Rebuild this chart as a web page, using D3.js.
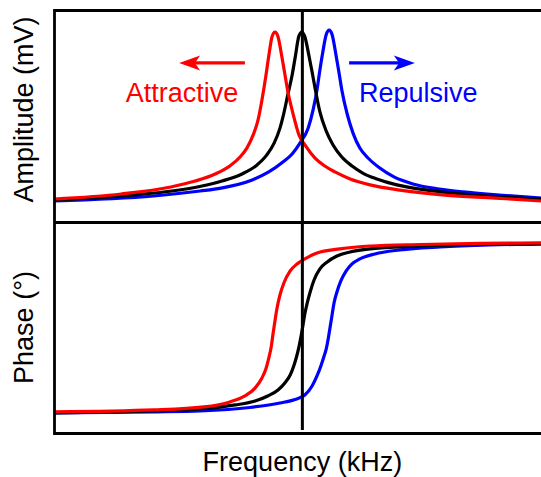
<!DOCTYPE html>
<html>
<head>
<meta charset="utf-8">
<script src="https://cdn.jsdelivr.net/npm/d3@7"></script>
<style>
  body { margin: 0; background: #fff; }
  text { font-family: "Liberation Sans", Arial, sans-serif; }
</style>
</head>
<body>
<div id="chart"></div>
<script>
// Amplitude curves (frequency in kHz, amplitude in mV)
const ampFreqBlack = [249.0, 265.0, 273.2, 279.4, 283.5, 287.6, 290.7, 292.7, 294.2, 295.4, 296.2, 297.0, 297.9, 298.5, 299.3, 299.9,
  300.5, 301.4, 302.0, 302.6, 303.6, 304.9, 306.3, 308.1, 310.2, 312.4, 315.3, 319.4, 325.6, 333.0, 341.0, 349.0];
const ampBlack = [0.93, 1.20, 1.42, 1.69, 1.96, 2.34, 2.83, 3.37, 4.01, 4.82, 5.63, 6.61, 7.69, 8.60, 9.80, 10.01,
  9.76, 8.66, 7.85, 6.99, 5.69, 4.66, 3.91, 3.26, 2.77, 2.39, 2.07, 1.75, 1.47, 1.26, 1.10, 0.99];

const ampFreqRed = [249.0, 262.8, 273.0, 278.0, 282.1, 285.1, 287.2, 288.6, 289.9, 290.9, 291.7, 292.5, 293.1, 293.8, 294.4,
  295.0, 295.8, 296.4, 297.0, 298.1, 299.3, 300.7, 302.6, 304.6, 306.7, 309.8, 313.9, 320.0, 329.3, 339.6, 349.0];
const ampRed = [0.99, 1.26, 1.64, 1.96, 2.34, 2.77, 3.26, 3.74, 4.45, 5.26, 6.34, 7.63, 8.71, 9.78, 10.01,
  9.76, 8.66, 7.74, 6.82, 5.58, 4.45, 3.85, 3.20, 2.77, 2.45, 2.07, 1.75, 1.47, 1.20, 1.04, 0.88];

const ampFreqBlue = [249.0, 269.5, 279.0, 283.3, 289.7, 293.1, 296.0, 297.9, 299.5, 301.2, 302.2, 303.0, 303.6, 304.2, 304.9, 305.5,
  306.1, 306.9, 307.5, 308.1, 309.2, 310.4, 311.8, 313.7, 315.9, 318.8, 322.7, 328.1, 333.0, 340.4, 349.0];
const ampBlue = [0.88, 1.15, 1.42, 1.58, 2.02, 2.45, 2.99, 3.42, 4.01, 4.82, 5.80, 6.88, 7.96, 8.93, 9.88, 10.12,
  9.88, 8.77, 7.85, 6.88, 5.58, 4.55, 3.74, 3.15, 2.66, 2.18, 1.80, 1.53, 1.37, 1.20, 1.04];

// Phase curves (frequency in kHz, phase in degrees)
const phFreqRed = [249.0, 269.5, 279.8, 285.1, 288.2, 290.3, 291.7, 292.5, 293.1, 293.6, 294.0, 294.4, 294.8, 295.4, 296.2,
  297.5, 298.9, 300.5, 303.0, 307.7, 313.9, 324.2, 336.5, 349.0];
const phRed = [1.1, 3.2, 6.4, 11.7, 18.0, 26.5, 37.1, 46.6, 58.2, 69.9, 84.7, 98.5, 111.2, 124.9, 137.6,
  150.4, 157.8, 163.1, 169.4, 173.7, 176.8, 178.4, 179.5, 180.0];

const phFreqBlack = [249.0, 269.5, 279.0, 286.2, 290.3, 292.9, 295.0, 296.4, 297.5, 298.3, 298.9, 299.3, 299.7, 300.1, 300.5,
  301.0, 301.6, 302.4, 303.6, 305.1, 307.1, 309.8, 314.9, 324.2, 336.5, 349.0];
const phBlack = [0, 2.1, 4.2, 8.5, 12.7, 18.0, 24.4, 31.8, 40.2, 50.8, 61.4, 69.9, 80.5, 92.1, 104.8,
  116.5, 128.1, 140.8, 152.5, 159.9, 166.2, 170.5, 174.2, 176.8, 178.4, 178.9];

const phFreqBlue = [249.0, 269.5, 279.0, 289.2, 295.4, 298.5, 300.5, 302.0, 303.0, 303.8, 304.4, 304.9, 305.3, 305.7, 306.1,
  306.5, 307.1, 307.9, 309.0, 310.2, 311.8, 314.9, 320.0, 328.3, 338.5, 349.0];
const phBlue = [0, 1.1, 2.1, 5.8, 10.6, 14.3, 19.1, 28.6, 39.2, 49.8, 59.3, 67.8, 78.4, 91.1, 103.8,
  116.5, 128.1, 139.8, 150.4, 157.8, 163.1, 168.4, 172.6, 175.8, 177.9, 178.9];

const resonance = 300;

// annotations
const labelText = ['Attractive', 'Repulsive'];
const labelFreq = [275.3, 323.8];
const labelAmp  = [6.23, 6.23];
const arrowFrom = [288.2, 309.6];
const arrowTo   = [274.7, 323.1];
const arrowAmp  = 8.34;
const colors = { red: '#ff0000', black: '#000000', blue: '#0000ff' };

const width = 541, height = 477;
const left = 54, right = 542;
const topA = 10, botA = 221, topP = 222, botP = 433;

const svg = d3.select('#chart').append('svg')
  .attr('width', width)
  .attr('height', height);

const x = d3.scaleLinear().domain([249, 349]).range([left, right - 1]);
const yA = d3.scaleLinear().domain([-0.2, 11.2]).range([botA, topA]);
const yP = d3.scaleLinear().domain([-21.2, 202.2]).range([botP, topP]);

function zip(fs, vs) { return fs.map((f, i) => [f, vs[i]]); }

const lineA = d3.line().x(d => x(d[0])).y(d => yA(d[1])).curve(d3.curveMonotoneX);
const lineP = d3.line().x(d => x(d[0])).y(d => yP(d[1])).curve(d3.curveMonotoneX);

const ampSeries = [
  { c: colors.blue, d: zip(ampFreqBlue, ampBlue) },
  { c: colors.black, d: zip(ampFreqBlack, ampBlack) },
  { c: colors.red, d: zip(ampFreqRed, ampRed) }
];
const phSeries = [
  { c: colors.blue, d: zip(phFreqBlue, phBlue) },
  { c: colors.black, d: zip(phFreqBlack, phBlack) },
  { c: colors.red, d: zip(phFreqRed, phRed) }
];

svg.selectAll('.amp').data(ampSeries).enter().append('path')
  .attr('class', 'amp')
  .attr('d', s => lineA(s.d))
  .attr('fill', 'none').attr('stroke', s => s.c).attr('stroke-width', 3.2);

svg.selectAll('.ph').data(phSeries).enter().append('path')
  .attr('class', 'ph')
  .attr('d', s => lineP(s.d))
  .attr('fill', 'none').attr('stroke', s => s.c).attr('stroke-width', 3.2);

// frame: axes without ticks
function frame(g) { g.selectAll('.domain').attr('stroke', '#000').attr('stroke-width', 2.8); }
svg.append('g').attr('transform', `translate(0,${topA})`)
  .call(d3.axisTop(x).tickValues([]).tickSizeOuter(0)).call(frame);
svg.append('g').attr('transform', `translate(0,${topP})`)
  .call(d3.axisBottom(x).tickValues([]).tickSizeOuter(0)).call(frame);
svg.append('g').attr('transform', `translate(0,${botP})`)
  .call(d3.axisBottom(x).tickValues([]).tickSizeOuter(0)).call(frame);
svg.append('g').attr('transform', `translate(${left},0)`)
  .call(d3.axisLeft(d3.scaleLinear().range([topA - 1.4, botP + 1.4])).tickValues([]).tickSizeOuter(0)).call(frame);

// resonance line
svg.append('line')
  .attr('x1', x(resonance)).attr('x2', x(resonance))
  .attr('y1', topA).attr('y2', botP - 3)
  .attr('stroke', '#000').attr('stroke-width', 3);

// arrows
const arrowColors = [colors.red, colors.blue];
arrowFrom.forEach((f, i) => {
  const x0 = x(f), x1 = x(arrowTo[i]), yy = yA(arrowAmp);
  const dir = Math.sign(x1 - x0);
  const headLen = 21, headW = 7.5;
  svg.append('line')
    .attr('x1', x0).attr('x2', x1 - dir * headLen * 0.6)
    .attr('y1', yy).attr('y2', yy)
    .attr('stroke', arrowColors[i]).attr('stroke-width', 3.2);
  svg.append('path')
    .attr('d', `M${x1},${yy} L${x1 - dir * headLen},${yy - headW} L${x1 - dir * headLen * 0.75},${yy} L${x1 - dir * headLen},${yy + headW} Z`)
    .attr('fill', arrowColors[i]);
});

svg.selectAll('.lbl').data(labelText).enter().append('text')
  .attr('class', 'lbl')
  .attr('x', (d, i) => x(labelFreq[i]))
  .attr('y', (d, i) => yA(labelAmp[i]))
  .attr('text-anchor', 'middle')
  .attr('font-size', 27)
  .attr('fill', (d, i) => arrowColors[i])
  .text(d => d);

// axis titles
svg.append('text')
  .attr('transform', `translate(33,${(topA + botA) / 2 - 6}) rotate(-90)`)
  .attr('text-anchor', 'middle').attr('font-size', 27)
  .text('Amplitude (mV)');
svg.append('text')
  .attr('transform', `translate(33,${(topP + botP) / 2}) rotate(-90)`)
  .attr('text-anchor', 'middle').attr('font-size', 27)
  .text('Phase (°)');
svg.append('text')
  .attr('x', x(resonance)).attr('y', 471)
  .attr('text-anchor', 'middle').attr('font-size', 27)
  .text('Frequency (kHz)');
</script>
</body>
</html>
